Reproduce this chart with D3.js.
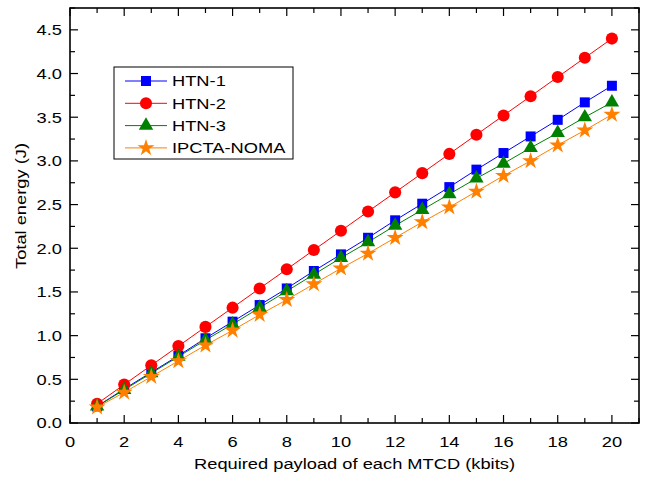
<!DOCTYPE html>
<html lang="en">
<head>
    <meta charset="UTF-8" />
    <title>Total energy</title>
    <script src="https://d3js.org/d3.v7.min.js"></script>
    <style>
        body { margin: 0; background: #fff; }
        text { font-family: "Liberation Sans", Arial, sans-serif; fill: #000; }
    </style>
</head>
<body>
    <div id="chart"></div>
    <script>
        var w = 651;
        var h = 485;
        var margin = { left: 70, right: 12, top: 8, bottom: 62 };
        var stretch = 1.18; // text in the figure is a little wide

        // payload in kbits
        var payload = [1, 2, 3, 4, 5, 6, 7, 8, 9, 10, 11, 12, 13, 14, 15, 16, 17, 18, 19, 20];
        var htn1 = [0.19, 0.39, 0.58, 0.77, 0.97, 1.16, 1.35, 1.54, 1.74, 1.93, 2.12, 2.32, 2.51, 2.70, 2.90, 3.09, 3.28, 3.47, 3.67, 3.86];
        var htn2 = [0.22, 0.44, 0.66, 0.88, 1.10, 1.32, 1.54, 1.76, 1.98, 2.20, 2.42, 2.64, 2.86, 3.08, 3.30, 3.52, 3.74, 3.96, 4.18, 4.40];
        var htn3 = [0.19, 0.38, 0.57, 0.76, 0.95, 1.13, 1.32, 1.51, 1.70, 1.89, 2.07, 2.26, 2.44, 2.62, 2.80, 2.97, 3.15, 3.32, 3.50, 3.67];
        var ipcta = [0.18, 0.35, 0.53, 0.71, 0.89, 1.06, 1.24, 1.41, 1.59, 1.77, 1.94, 2.12, 2.30, 2.47, 2.65, 2.83, 3.00, 3.18, 3.35, 3.53];
        var seriesNames = ["HTN-1", "HTN-2", "HTN-3", "IPCTA-NOMA"];
        var xTicks = [0, 2, 4, 6, 8, 10, 12, 14, 16, 18, 20];
        var yTicks = [0.0, 0.5, 1.0, 1.5, 2.0, 2.5, 3.0, 3.5, 4.0, 4.5];

        var series = [
            { name: seriesNames[0], values: htn1, color: "#0000ff", symbol: d3.symbolSquare, size: 100 },
            { name: seriesNames[1], values: htn2, color: "#ff0000", symbol: d3.symbolCircle, size: 115 },
            { name: seriesNames[2], values: htn3, color: "#008000", symbol: d3.symbolTriangle, size: 90 },
            { name: seriesNames[3], values: ipcta, color: "#ff8000", symbol: d3.symbolStar, size: 90 }
        ];

        var svg = d3.select("#chart")
            .append("svg")
            .attr("width", w)
            .attr("height", h);

        var xScale = d3.scaleLinear()
            .domain([0, 21])
            .range([margin.left, w - margin.right]);

        var yScale = d3.scaleLinear()
            .domain([0, 4.75])
            .range([h - margin.bottom, margin.top]);

        var x0 = margin.left, x1 = w - margin.right;
        var y0 = h - margin.bottom, y1 = margin.top;

        function place(x, y) {
            return "translate(" + x + "," + y + ") scale(" + stretch + ",1)";
        }

        // inward ticks on all four sides
        var ticks = svg.append("g").attr("stroke", "#000").attr("stroke-width", 1.2);
        d3.range(0, 21.01, 1).forEach(function (v) {
            var len = (v % 2 === 0) ? 8 : 5;
            ticks.append("line").attr("x1", xScale(v)).attr("x2", xScale(v)).attr("y1", y0).attr("y2", y0 - len);
            ticks.append("line").attr("x1", xScale(v)).attr("x2", xScale(v)).attr("y1", y1).attr("y2", y1 + len);
        });
        d3.range(0, 4.76, 0.25).forEach(function (v) {
            var major = Math.abs(v / 0.5 - Math.round(v / 0.5)) < 1e-6;
            var len = major ? 8 : 5;
            ticks.append("line").attr("y1", yScale(v)).attr("y2", yScale(v)).attr("x1", x0).attr("x2", x0 + len);
            ticks.append("line").attr("y1", yScale(v)).attr("y2", yScale(v)).attr("x1", x1).attr("x2", x1 - len);
        });

        // tick labels
        svg.append("g").selectAll("text")
            .data(xTicks)
            .enter()
            .append("text")
            .attr("transform", function (d) { return place(xScale(d), y0 + 24); })
            .attr("text-anchor", "middle")
            .style("font-size", "15.5px")
            .text(function (d) { return d; });

        svg.append("g").selectAll("text")
            .data(yTicks)
            .enter()
            .append("text")
            .attr("transform", function (d) { return place(x0 - 8, yScale(d)); })
            .attr("dy", "0.35em")
            .attr("text-anchor", "end")
            .style("font-size", "15.5px")
            .text(function (d) { return d3.format(".1f")(d); });

        // axis titles
        svg.append("text")
            .attr("transform", place((x0 + x1) / 2, 469))
            .attr("text-anchor", "middle")
            .style("font-size", "15.5px")
            .text("Required payload of each MTCD (kbits)");

        svg.append("text")
            .attr("transform", "translate(26,206) rotate(-90) scale(" + stretch + ",1)")
            .attr("text-anchor", "middle")
            .style("font-size", "15.5px")
            .text("Total energy (J)");

        // lines and markers
        var line = d3.line()
            .x(function (d) { return xScale(d.x); })
            .y(function (d) { return yScale(d.y); });

        series.forEach(function (s) {
            var pts = payload.map(function (p, i) { return { x: p, y: s.values[i] }; });
            svg.append("path")
                .datum(pts)
                .attr("fill", "none")
                .attr("stroke", s.color)
                .attr("stroke-width", 1)
                .attr("d", line);
        });

        series.forEach(function (s) {
            var pts = payload.map(function (p, i) { return { x: p, y: s.values[i] }; });
            svg.append("g").selectAll("path")
                .data(pts)
                .enter()
                .append("path")
                .attr("transform", function (d) { return "translate(" + xScale(d.x) + "," + yScale(d.y) + ")"; })
                .attr("d", d3.symbol().type(s.symbol).size(s.size))
                .attr("fill", s.color);
        });

        // frame
        svg.append("rect")
            .attr("x", x0)
            .attr("y", y1)
            .attr("width", x1 - x0)
            .attr("height", y0 - y1)
            .attr("fill", "none")
            .attr("stroke", "#000")
            .attr("stroke-width", 1.6);

        // legend
        var legend = svg.append("g").attr("transform", "translate(114,67)");
        legend.append("rect")
            .attr("width", 179)
            .attr("height", 92)
            .attr("fill", "#fff")
            .attr("stroke", "#000")
            .attr("stroke-width", 1);

        series.forEach(function (s, i) {
            var y = 14 + i * 22.3;
            legend.append("line")
                .attr("x1", 11).attr("x2", 53)
                .attr("y1", y).attr("y2", y)
                .attr("stroke", s.color)
                .attr("stroke-width", 1);
            legend.append("path")
                .attr("transform", "translate(32," + y + ")")
                .attr("d", d3.symbol().type(s.symbol).size(s.size))
                .attr("fill", s.color);
            legend.append("text")
                .attr("transform", place(58, y))
                .attr("dy", "0.35em")
                .style("font-size", "15.5px")
                .text(s.name);
        });
    </script>
</body>
</html>
